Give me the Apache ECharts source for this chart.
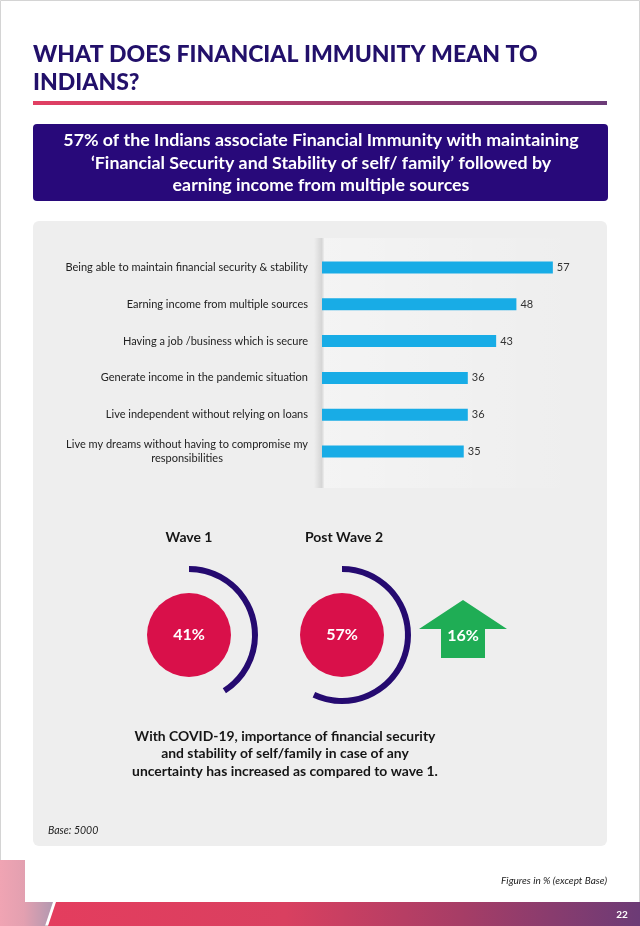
<!DOCTYPE html>
<html>
<head>
<meta charset="utf-8">
<script src="https://cdn.jsdelivr.net/npm/echarts@6/dist/echarts.min.js"></script>
<style>
html,body{margin:0;padding:0;background:#fff;}
#c{width:640px;height:926px;}
</style>
</head>
<body>
<div id="c"></div>
<script>
// ---- data ----
const categories = [
  'Being able to maintain financial security & stability',
  'Earning income from multiple sources',
  'Having a job /business which is secure',
  'Generate income in the pandemic situation',
  'Live independent without relying on loans',
  'Live my dreams without having to compromise my\nresponsibilities'
];
const values = [57, 48, 43, 36, 36, 35];
const waveLabels = ['Wave 1', 'Post Wave 2'];
const waveValues = [41, 57];
const titleText = 'WHAT DOES FINANCIAL IMMUNITY MEAN TO\nINDIANS?';
const headline = '57% of the Indians associate Financial Immunity with maintaining\n\u2018Financial Security and Stability of self/ family\u2019 followed by\nearning income from multiple sources';
const noteText = 'With COVID-19, importance of financial security\nand stability of self/family in case of any\nuncertainty has increased as compared to wave 1.';
const baseText = 'Base: 5000';
const footText = 'Figures in % (except Base)';
const pageNo = '22';

// ---- chart ----
const FONT = 'Lato, "Open Sans", sans-serif';
const chart = echarts.init(document.getElementById('c'), null, {renderer: 'canvas'});
const INDIGO = '#250a70';
const RED = '#d9104a';
const waveX = [189, 342];
const waveY = 635;
const diff = waveValues[1] - waveValues[0];

const series = [{
  type: 'bar',
  data: values,
  barWidth: 12,
  itemStyle: {color: '#18ace6'},
  label: {show: true, position: 'right', distance: 4, color: '#333', fontSize: 11, fontFamily: FONT},
  z: 3
}];
waveValues.forEach((v, i) => {
  series.push({
    type: 'pie', silent: true, center: [waveX[i], waveY], radius: [0, 42],
    label: {show: true, position: 'center', formatter: v + '%', color: '#fff', fontSize: 16, fontWeight: 'bold', fontFamily: FONT},
    labelLine: {show: false}, emphasis: {disabled: true},
    data: [{value: v, itemStyle: {color: RED}}]
  });
  series.push({
    type: 'pie', silent: true, center: [waveX[i], waveY], radius: [63, 69],
    startAngle: 90, clockwise: true,
    label: {show: false}, labelLine: {show: false}, emphasis: {disabled: true},
    data: [{value: v, itemStyle: {color: INDIGO}}, {value: 100 - v, itemStyle: {color: 'rgba(0,0,0,0)'}}]
  });
});

const graphic = [
  {type: 'rect', shape: {x: 0.5, y: 0.5, width: 639, height: 925}, style: {fill: '#fff', stroke: '#d4d4d4', lineWidth: 1}, z: -20},
  {type: 'text', x: 33, y: 41, style: {text: titleText, fill: '#22106a', font: '900 23px ' + FONT, lineHeight: 28}, z: 5},
  {type: 'rect', shape: {x: 33, y: 101, width: 574, height: 4},
   style: {fill: new echarts.graphic.LinearGradient(0, 0, 1, 0, [{offset: 0, color: '#e23f62'}, {offset: 1, color: '#6b3b78'}])}, z: 5},
  {type: 'rect', shape: {x: 33, y: 124, width: 575, height: 77, r: 4}, style: {fill: '#28097a'}, z: 5},
  {type: 'text', x: 321, y: 163, style: {text: headline, fill: '#fff', font: 'bold 17.8px ' + FONT, lineHeight: 22.5, align: 'center', verticalAlign: 'middle'}, z: 6},
  {type: 'rect', shape: {x: 33, y: 221, width: 574, height: 625, r: 6}, style: {fill: '#eeeeee'}, z: -10},
  {type: 'rect', shape: {x: 322, y: 238, width: 260, height: 250},
   style: {fill: new echarts.graphic.LinearGradient(0, 0, 1, 0, [{offset: 0, color: 'rgba(255,255,255,0.35)'}, {offset: 1, color: 'rgba(255,255,255,0)'}])}, z: -9},
  {type: 'rect', shape: {x: 314, y: 238, width: 10, height: 250},
   style: {fill: new echarts.graphic.LinearGradient(0, 0, 1, 0, [{offset: 0, color: 'rgba(0,0,0,0)'}, {offset: 0.8, color: 'rgba(0,0,0,0.11)'}, {offset: 1, color: 'rgba(0,0,0,0.03)'}])}, z: -8},
  {type: 'text', x: waveX[0], y: 537, style: {text: waveLabels[0], fill: '#151515', font: 'bold 14px ' + FONT, align: 'center', verticalAlign: 'middle'}, z: 5},
  {type: 'text', x: waveX[1] + 2, y: 537, style: {text: waveLabels[1], fill: '#151515', font: 'bold 14px ' + FONT, align: 'center', verticalAlign: 'middle'}, z: 5},
  {type: 'polygon', shape: {points: [[463, 600], [507, 629], [485, 629], [485, 658], [441, 658], [441, 629], [419, 629]]}, style: {fill: '#1fad55'}, z: 5},
  {type: 'text', x: 463, y: 636, style: {text: diff + '%', fill: '#fff', font: 'bold 16px ' + FONT, align: 'center', verticalAlign: 'middle'}, z: 6},
  {type: 'text', x: 285, y: 754, style: {text: noteText, fill: '#151515', font: 'bold 13.9px ' + FONT, lineHeight: 17.5, align: 'center', verticalAlign: 'middle'}, z: 5},
  {type: 'text', x: 48, y: 831, style: {text: baseText, fill: '#222', font: 'italic 10.5px ' + FONT, verticalAlign: 'middle'}, z: 5},
  {type: 'text', x: 607, y: 881, style: {text: footText, fill: '#222', font: 'italic 10px ' + FONT, align: 'right', verticalAlign: 'middle'}, z: 5},
  // bottom decoration
  {type: 'polygon', shape: {points: [[0, 860], [25, 860], [25, 902], [53, 902], [45, 926], [0, 926]]},
   style: {fill: new echarts.graphic.LinearGradient(0, 0, 1, 0, [{offset: 0, color: '#f0a4b3'}, {offset: 0.45, color: '#e3a0b0'}, {offset: 1, color: '#b298b0'}])}, z: 5},
  {type: 'polygon', shape: {points: [[56, 902], [640, 902], [640, 926], [48, 926]]},
   style: {fill: new echarts.graphic.LinearGradient(0, 0, 1, 0, [{offset: 0, color: '#e43d5e'}, {offset: 0.4, color: '#d94060'}, {offset: 0.7, color: '#a63d66'}, {offset: 1, color: '#6c3b76'}])}, z: 5},
  {type: 'text', x: 622, y: 915, style: {text: pageNo, fill: '#fff', font: 'bold 10px ' + FONT, align: 'center', verticalAlign: 'middle'}, z: 6}
];

chart.setOption({
  animation: false,
  backgroundColor: 'transparent',
  grid: {left: 322, right: 75, top: 249, height: 221, containLabel: false},
  xAxis: {type: 'value', min: 0, max: 60, show: false, splitLine: {show: false}},
  yAxis: {
    type: 'category', data: categories, inverse: true,
    axisLine: {show: false}, axisTick: {show: false},
    axisLabel: {
      margin: 14, color: '#222', fontSize: 11, fontFamily: FONT, lineHeight: 14,
      formatter: v => v.split('\n').map(s => '{c|' + s + '}').join('\n'),
      rich: {c: {align: 'center', fontSize: 11, fontFamily: FONT, color: '#222', lineHeight: 14}}
    }
  },
  series: series,
  graphic: graphic
});
</script>
</body>
</html>
